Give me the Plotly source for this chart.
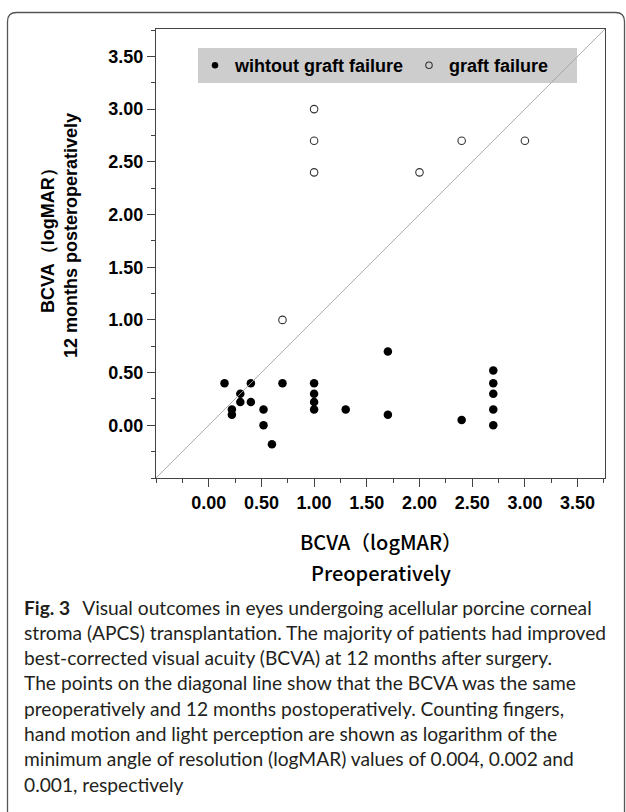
import plotly.graph_objects as go

# ---------------- data ----------------
pre_ok = [0.15, 0.22, 0.22, 0.30, 0.30, 0.40, 0.40, 0.52, 0.52, 0.60, 0.70,
          1.00, 1.00, 1.00, 1.00, 1.30, 1.70, 1.70, 2.40,
          2.70, 2.70, 2.70, 2.70, 2.70]
post_ok = [0.40, 0.15, 0.10, 0.30, 0.22, 0.40, 0.22, 0.15, 0.00, -0.18, 0.40,
           0.40, 0.30, 0.22, 0.15, 0.15, 0.70, 0.10, 0.05,
           0.52, 0.40, 0.30, 0.15, 0.00]
pre_fail = [0.70, 1.00, 1.00, 1.00, 2.00, 2.40, 3.00]
post_fail = [1.00, 3.00, 2.70, 2.40, 2.40, 2.70, 2.70]

tick_vals = [0.0, 0.5, 1.0, 1.5, 2.0, 2.5, 3.0, 3.5]
tick_text = ["0.00", "0.50", "1.00", "1.50", "2.00", "2.50", "3.00", "3.50"]
axis_range = [-0.5, 3.76]

legend_names = ["wihtout graft failure", "graft failure"]
x_title = ["BCVA（logMAR）", "Preoperatively"]
y_title = ["BCVA（logMAR）", "12 months posteroperatively"]
caption_lines = [
    "<b>Fig. 3</b>\u2002\u2009Visual outcomes in eyes undergoing acellular porcine corneal",
    "stroma (APCS) transplantation. The majority of patients had improved",
    "best-corrected visual acuity (BCVA) at 12 months after surgery.",
    "The points on the diagonal line show that the BCVA was the same",
    "preoperatively and 12 months postoperatively. Counting fingers,",
    "hand motion and light perception are shown as logarithm of the",
    "minimum angle of resolution (logMAR) values of 0.004, 0.002 and",
    "0.001, respectively",
]

# ---------------- layout geometry (pixels) ----------------
W, H = 626, 812
L, R, T, B = 156, 21, 29, 334
PW, PH = W - L - R, H - T - B


def X(px):
    return (px - L) / PW


def Y(py):
    return (T + PH - py) / PH


fig = go.Figure()
fig.add_trace(go.Scatter(
    x=pre_ok, y=post_ok, mode="markers", name=legend_names[0], showlegend=False,
    marker=dict(symbol="circle", size=8.5, color="black", line=dict(width=0)),
))
fig.add_trace(go.Scatter(
    x=pre_fail, y=post_fail, mode="markers", name=legend_names[1], showlegend=False,
    marker=dict(symbol="circle-open", size=7.5, color="#333333",
                line=dict(width=1.1, color="#333333")),
))
# legend-only entries (smaller symbols, as in the reference key)
fig.add_trace(go.Scatter(
    x=[None], y=[None], mode="markers", name=legend_names[0],
    marker=dict(symbol="circle", size=6.5, color="black", line=dict(width=0)),
))
fig.add_trace(go.Scatter(
    x=[None], y=[None], mode="markers", name=legend_names[1],
    marker=dict(symbol="circle-open", size=6.5, color="#333333",
                line=dict(width=1.1, color="#333333")),
))

tickfont = dict(family="Liberation Sans, Arial", size=18, color="black", weight="bold")
axis_common = dict(
    range=axis_range, tickvals=tick_vals, ticktext=tick_text,
    showgrid=False, zeroline=False, showline=True, linecolor="#444444", linewidth=1.2,
    mirror=True, ticks="outside", ticklen=8, tickwidth=1.2, tickcolor="#444444",
    minor=dict(dtick=0.25, tick0=0, ticks="outside", ticklen=4, tickwidth=1.1,
               tickcolor="#444444", showgrid=False),
    tickfont=tickfont,
)
fig.update_xaxes(**axis_common)
fig.update_yaxes(**axis_common)

shapes = []
# grey legend band
shapes.append(dict(type="rect", xref="paper", yref="paper",
                   x0=X(198), x1=X(577), y0=Y(83), y1=Y(48),
                   fillcolor="#cdcdcd", line=dict(width=0), layer="below"))
# diagonal identity line (corner to corner of the square plot)
shapes.append(dict(type="line", xref="paper", yref="paper", x0=0, y0=0, x1=1, y1=1,
                   line=dict(color="#a3a3a3", width=0.9)))
# rounded outer frame
r = 9
x0, x1, y0, y1 = 7.5, 624.5, 12.5, 840
path = (f"M {X(x0)},{Y(y1)} L {X(x0)},{Y(y0 + r)} Q {X(x0)},{Y(y0)} {X(x0 + r)},{Y(y0)} "
        f"L {X(x1 - r)},{Y(y0)} Q {X(x1)},{Y(y0)} {X(x1)},{Y(y0 + r)} L {X(x1)},{Y(y1)}")
shapes.append(dict(type="path", xref="paper", yref="paper", path=path,
                   line=dict(color="#555555", width=1.3)))

annotations = []
# y-axis title (two rotated lines)
ytfont = dict(family="Liberation Sans, Arial", size=18, color="black", weight="bold")
for txt, px in zip(y_title, [48, 71]):
    annotations.append(dict(text=txt, xref="paper", yref="paper", x=X(px), y=Y(236),
                            xanchor="center", yanchor="middle", textangle=-90,
                            showarrow=False, font=ytfont))
# x-axis title
xtfont = dict(family="Noto Sans CJK SC", size=20, color="black", weight=500)
for txt, py in zip(x_title, [541, 572]):
    annotations.append(dict(text=txt, xref="paper", yref="paper", x=X(380.5), y=Y(py),
                            xanchor="center", yanchor="middle", showarrow=False, font=xtfont))
# caption
capfont = dict(family="Lato", size=19.2, color="#231f20")
for i, txt in enumerate(caption_lines):
    annotations.append(dict(text=txt, xref="paper", yref="paper", x=X(22), y=Y(607 + 25.3 * i),
                            xanchor="left", yanchor="middle", showarrow=False, font=capfont))

fig.update_layout(
    width=W, height=H, autosize=False,
    margin=dict(l=L, r=R, t=T, b=B, pad=0),
    paper_bgcolor="white", plot_bgcolor="white",
    showlegend=True,
    legend=dict(orientation="h", x=X(195), y=Y(65.5), xanchor="left", yanchor="middle",
                bgcolor="rgba(0,0,0,0)", borderwidth=0,
                font=dict(family="Liberation Sans, Arial", size=18, color="black", weight="bold")),
    shapes=shapes, annotations=annotations,
)

fig.write_html("out.html", config={"displayModeBar": False},
               post_script="document.body.style.margin='0';")
